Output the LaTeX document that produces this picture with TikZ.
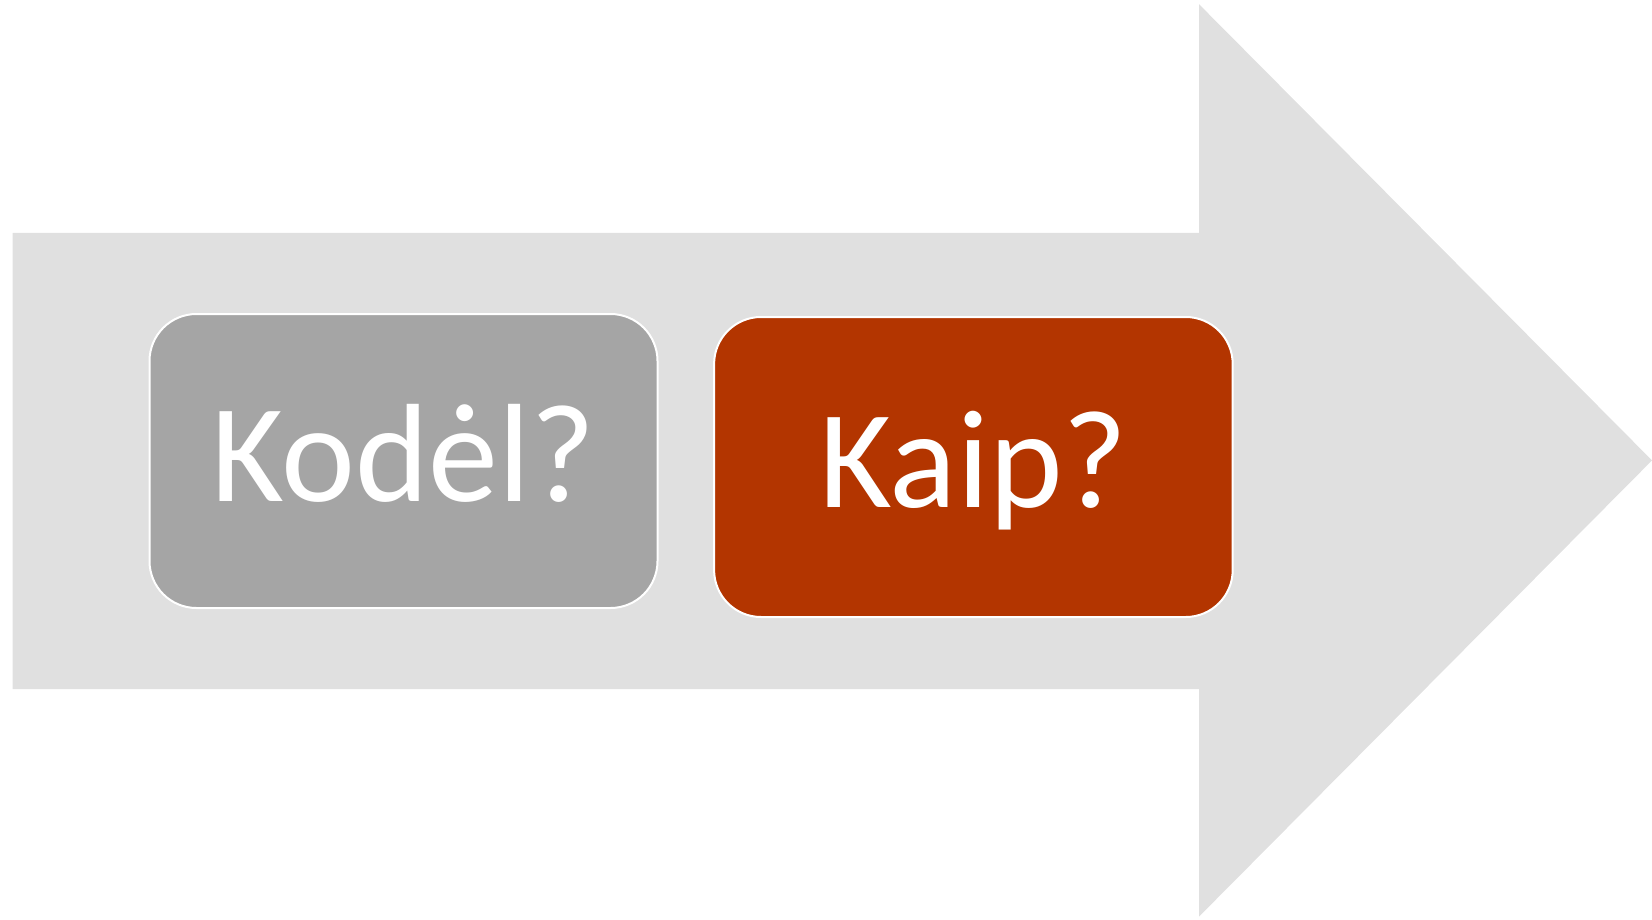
\documentclass[tikz,border=0pt]{standalone}
\usepackage{fontspec}
\setmainfont{Carlito}
\usetikzlibrary{positioning}
\definecolor{arrowgray}{HTML}{E0E0E0}
\definecolor{boxgray}{HTML}{A5A5A5}
\definecolor{boxrust}{HTML}{B33500}

\begin{document}
\begin{tikzpicture}[x=1pt,y=-1pt]
	\useasboundingbox (0,0) rectangle (1652,920);
	% big arrow behind the boxes
	\fill[arrowgray] (12.6,232.8) -- (1199,232.8) -- (1199,4.2) -- (1652,460.4)
		-- (1199,916.6) -- (1199,689) -- (12.6,689) -- cycle;

	\begin{scope}[every node/.style={rectangle,draw=white,line width=2pt,rounded corners=47pt,text=white,font=\fontsize{140}{160}\selectfont,text height=88pt,text depth=8pt}]
		\node[fill=boxgray,minimum width=508pt,minimum height=294pt] (why) at (403.5,461) {Kodėl?};
		\node[fill=boxrust,minimum width=518.6pt,minimum height=300pt,right =54.6pt of why,yshift=-6pt] (how) {Kaip?};
	\end{scope}
\end{tikzpicture}
\end{document}
